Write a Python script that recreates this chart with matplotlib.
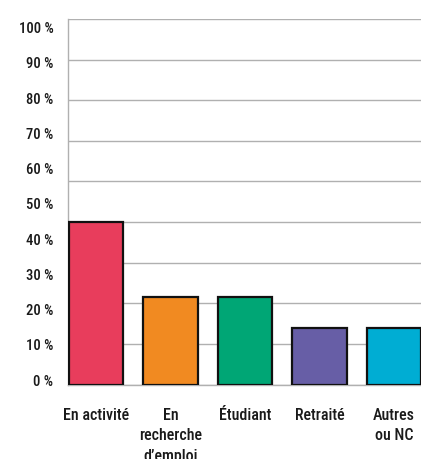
import numpy as np
import matplotlib
matplotlib.use("Agg")
import matplotlib.pyplot as plt

# data (percent)
categories = ["En activité", "En\nrecherche\nd’emploi", "Étudiant", "Retraité", "Autres\nou NC"]
values = [44.5, 24.0, 24.0, 15.5, 15.5]
colors = ["#E83D5C", "#F18A21", "#00A675", "#675EA6", "#00ADD3"]
tick_labels = ["%d %%" % v for v in range(0, 101, 10)]

plt.rcParams['font.family'] = ['Roboto Condensed', 'Roboto', 'DejaVu Sans']

fig = plt.figure(figsize=(4.21, 4.60), dpi=100)
ax = fig.add_axes([68/421, 1 - 385.5/460, 353/421, 365.5/460])

x = np.arange(len(categories))
ax.bar(x, values, width=0.73, color=colors, edgecolor="#111111", linewidth=1.6, zorder=3)

ax.set_xlim(-0.376, 4.362)
ax.set_ylim(0, 100)

# gridlines (9 even intervals in the original)
ax.set_yticks(np.linspace(0, 100, 10))
ax.yaxis.grid(True, color="#b0b0b0", linewidth=1.0, zorder=0)
ax.tick_params(axis="y", which="major", length=0, labelleft=False)

# percentage labels sit on their own spacing
ax.set_yticks(np.linspace(1.5, 97.9, 11), minor=True)
ax.set_yticklabels(tick_labels, minor=True, fontweight="medium")
ax.tick_params(axis="y", which="minor", length=0, pad=10.5, labelsize=10.5, labelcolor="#1a1a1a")

ax.set_xticks(x)
ax.set_xticklabels(categories, fontweight="medium", linespacing=1.45)
ax.tick_params(axis="x", length=0, pad=16, labelsize=11.5, labelcolor="#1a1a1a")

for s in ["top", "right"]:
    ax.spines[s].set_visible(False)
for s in ["left", "bottom"]:
    ax.spines[s].set_color("#b0b0b0")
    ax.spines[s].set_linewidth(1.0)

fig.savefig("out.png", dpi=100)
